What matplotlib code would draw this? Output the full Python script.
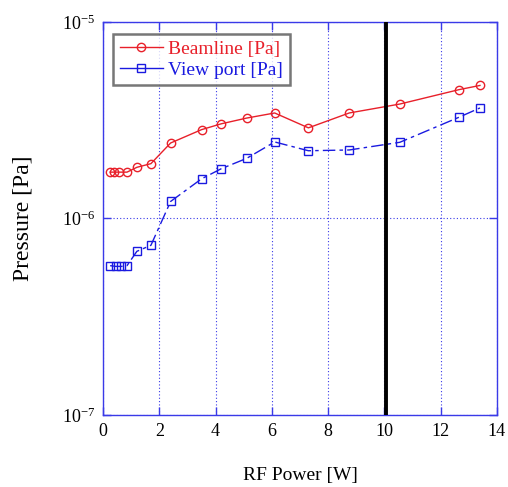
import matplotlib
matplotlib.use("Agg")
from matplotlib import pyplot as plt
from matplotlib.ticker import FixedLocator, NullLocator

plt.rcParams['font.family'] = ['Liberation Serif', 'DejaVu Serif']
plt.rcParams['mathtext.fontset'] = 'custom'
plt.rcParams['mathtext.rm'] = 'Liberation Serif'
plt.rcParams['mathtext.it'] = 'Liberation Serif:italic'

# data
beam_power = [0.25, 0.4, 0.55, 0.85, 1.2, 1.7, 2.4, 3.5, 4.2, 5.1, 6.1, 7.3, 8.75, 10.55, 12.65, 13.4]
beam_pressure = [1.72e-6, 1.72e-6, 1.72e-6, 1.72e-6, 1.82e-6, 1.9e-6, 2.42e-6, 2.83e-6, 3.03e-6,
                 3.24e-6, 3.44e-6, 2.89e-6, 3.44e-6, 3.82e-6, 4.52e-6, 4.75e-6]

view_power = [0.25, 0.45, 0.65, 0.85, 1.2, 1.7, 2.4, 3.5, 4.2, 5.1, 6.1, 7.3, 8.75, 10.55, 12.65, 13.4]
view_pressure = [5.75e-7, 5.7e-7, 5.7e-7, 5.75e-7, 6.8e-7, 7.3e-7, 1.22e-6, 1.59e-6, 1.79e-6,
                 2.02e-6, 2.45e-6, 2.21e-6, 2.23e-6, 2.44e-6, 3.27e-6, 3.65e-6]

limit_power = 10.05

blue = "#3a3ae8"

fig = plt.figure(figsize=(5.08, 4.87), dpi=100)
ax = fig.add_axes([0.203, 0.148, 0.775, 0.807])

ax.plot(beam_power, beam_pressure, "-o", color="#e8202a", linewidth=1.0, markersize=6,
        markerfacecolor="none", markeredgewidth=1.0, label="Beamline [Pa]")
ax.plot(view_power, view_pressure, "-s", color="#1a1ae0", linewidth=1.0, markersize=5.5,
        markerfacecolor="none", markeredgewidth=1.0, dashes=(9, 3, 2.5, 3), label="View port [Pa]")
ax.axvline(limit_power, color="black", linewidth=2.8, zorder=3)

ax.set_yscale("log")
ax.set_xlim(0, 14)
ax.set_ylim(1e-7, 1e-5)
ax.xaxis.set_major_locator(FixedLocator([0, 2, 4, 6, 8, 10, 12, 14]))
ax.yaxis.set_major_locator(FixedLocator([1e-7, 1e-6, 1e-5]))
ax.yaxis.set_minor_locator(NullLocator())
ax.set_yticklabels([r"$10^{-7}$", r"$10^{-6}$", r"$10^{-5}$"])

ax.grid(True, which="major", color=blue, linestyle=(0, (1, 2)), linewidth=0.8)
for s in ax.spines.values():
    s.set_color(blue)
    s.set_linewidth(1.0)
ax.tick_params(axis="both", which="major", direction="in", length=6, width=1.0, color=blue,
               top=True, right=True, labelsize=13, pad=6)

ax.set_xlabel("RF Power [W]", fontsize=14, labelpad=19)
ax.set_ylabel("Pressure [Pa]", fontsize=17, labelpad=20)

leg = ax.legend(loc="upper left", fontsize=14, frameon=True, fancybox=False,
                borderpad=0.35, handlelength=2.2, handletextpad=0.3, labelspacing=0.15,
                bbox_to_anchor=(0.025, 0.97), borderaxespad=0)
leg.get_frame().set_edgecolor("#555555")
leg.get_frame().set_linewidth(1.8)
for t, c in zip(leg.get_texts(), ["#e8202a", "#1a1ae0"]):
    t.set_color(c)
for h in leg.get_lines():
    h.set_linestyle("-")

fig.savefig("out.png", dpi=100)
